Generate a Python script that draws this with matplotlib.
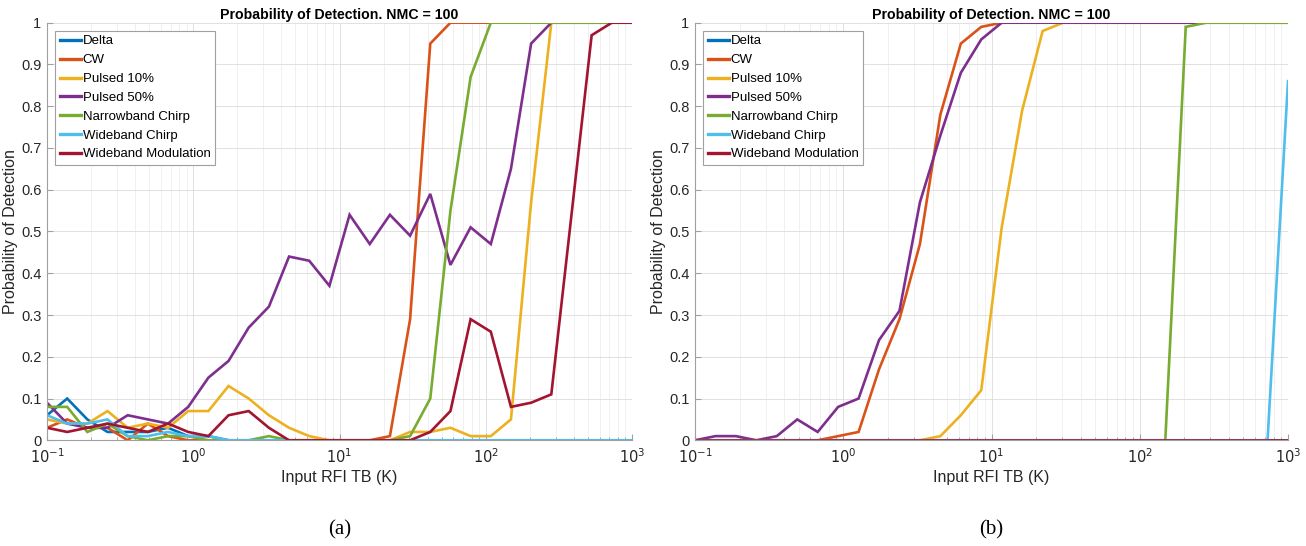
import matplotlib
matplotlib.use("Agg")
import matplotlib.pyplot as plt
from matplotlib.ticker import FixedLocator, LogLocator, NullFormatter

# Input RFI TB (K) sample points (log-spaced, 30 points from 0.1 to 1000)
tb = [0.1, 0.1374, 0.1887, 0.2593, 0.3562, 0.4894, 0.6723, 0.9237, 1.269, 1.743,
      2.395, 3.290, 4.520, 6.210, 8.532, 11.72, 16.10, 22.12, 30.39, 41.75,
      57.36, 78.80, 108.3, 148.7, 204.3, 280.7, 385.7, 529.8, 727.9, 1000.0]

labels = ["Delta", "CW", "Pulsed 10%", "Pulsed 50%", "Narrowband Chirp",
          "Wideband Chirp", "Wideband Modulation"]
colors = ["#0072BD", "#D95319", "#EDB120", "#7E2F8E", "#77AC30", "#4DBEEE", "#A2142F"]

# Panel (a)
a_delta = [0.06, 0.10, 0.05, 0.02, 0.02, 0.02, 0.03, 0.01, 0.01, 0, 0, 0, 0, 0, 0,
           0, 0, 0, 0, 0, 0, 0, 0, 0, 0, 0, 0, 0, 0, 0]
a_cw = [0.03, 0.05, 0.03, 0.03, 0.00, 0.04, 0.01, 0, 0, 0, 0, 0, 0, 0, 0,
        0, 0, 0.01, 0.29, 0.95, 1, 1, 1, 1, 1, 1, 1, 1, 1, 1]
a_p10 = [0.05, 0.04, 0.04, 0.07, 0.03, 0.04, 0.03, 0.07, 0.07, 0.13, 0.10, 0.06, 0.03, 0.01, 0,
         0, 0, 0, 0.02, 0.02, 0.03, 0.01, 0.01, 0.05, 0.57, 1, 1, 1, 1, 1]
a_p50 = [0.09, 0.04, 0.03, 0.03, 0.06, 0.05, 0.04, 0.08, 0.15, 0.19, 0.27, 0.32, 0.44, 0.43, 0.37,
         0.54, 0.47, 0.54, 0.49, 0.59, 0.42, 0.51, 0.47, 0.65, 0.95, 1, 1, 1, 1, 1]
a_nbc = [0.08, 0.08, 0.02, 0.04, 0.01, 0.00, 0.01, 0.01, 0, 0, 0, 0.01, 0, 0, 0,
         0, 0, 0, 0.01, 0.10, 0.55, 0.87, 1, 1, 1, 1, 1, 1, 1, 1]
a_wbc = [0.06, 0.04, 0.04, 0.05, 0.01, 0.01, 0.02, 0.01, 0.01, 0, 0, 0, 0, 0, 0,
         0, 0, 0, 0, 0, 0, 0, 0, 0, 0, 0, 0, 0, 0, 0]
a_wbm = [0.03, 0.02, 0.03, 0.04, 0.03, 0.02, 0.04, 0.02, 0.01, 0.06, 0.07, 0.03, 0, 0, 0,
         0, 0, 0, 0, 0.02, 0.07, 0.29, 0.26, 0.08, 0.09, 0.11, 0.54, 0.97, 1, 1]

# Panel (b)
b_delta = [0] * 30
b_cw = [0, 0, 0, 0, 0, 0, 0, 0.01, 0.02, 0.17, 0.29, 0.47, 0.78, 0.95, 0.99,
        1, 1, 1, 1, 1, 1, 1, 1, 1, 1, 1, 1, 1, 1, 1]
b_p10 = [0, 0, 0, 0, 0, 0, 0, 0, 0, 0, 0, 0, 0.01, 0.06, 0.12,
         0.51, 0.79, 0.98, 1, 1, 1, 1, 1, 1, 1, 1, 1, 1, 1, 1]
b_p50 = [0, 0.01, 0.01, 0, 0.01, 0.05, 0.02, 0.08, 0.10, 0.24, 0.31, 0.57, 0.73, 0.88, 0.96,
         1, 1, 1, 1, 1, 1, 1, 1, 1, 1, 1, 1, 1, 1, 1]
b_nbc = [0, 0, 0, 0, 0, 0, 0, 0, 0, 0, 0, 0, 0, 0, 0,
         0, 0, 0, 0, 0, 0, 0, 0, 0, 0.99, 1, 1, 1, 1, 1]
b_wbc = [0, 0, 0, 0, 0, 0, 0, 0, 0, 0, 0, 0, 0, 0, 0,
         0, 0, 0, 0, 0, 0, 0, 0, 0, 0, 0, 0, 0, 0, 0.86]
b_wbm = [0] * 30

panel_a = [a_delta, a_cw, a_p10, a_p50, a_nbc, a_wbc, a_wbm]
panel_b = [b_delta, b_cw, b_p10, b_p50, b_nbc, b_wbc, b_wbm]

yticks = [0, 0.1, 0.2, 0.3, 0.4, 0.5, 0.6, 0.7, 0.8, 0.9, 1]
ytick_labels = ["0", "0.1", "0.2", "0.3", "0.4", "0.5", "0.6", "0.7", "0.8", "0.9", "1"]

plt.rcParams["font.family"] = ["Liberation Sans", "DejaVu Sans"]

W, H = 1306, 546
fig = plt.figure(figsize=(W / 100, H / 100), dpi=100)

axes_px = [(47, 632), (695, 1288)]
top_px, bot_px = 22.7, 440.3
captions = ["(a)", "(b)"]

for (x0, x1), data, cap in zip(axes_px, [panel_a, panel_b], captions):
    ax = fig.add_axes([x0 / W, 1 - bot_px / H, (x1 - x0) / W, (bot_px - top_px) / H])
    for series, lab, col in zip(data, labels, colors):
        ax.plot(tb, series, color=col, lw=1.9, label=lab, solid_joinstyle="miter")
    ax.set_xscale("log")
    ax.set_xlim(0.1, 1000)
    ax.set_ylim(0, 1)
    ax.set_yticks(yticks)
    ax.set_yticklabels(ytick_labels)
    ax.xaxis.set_major_locator(FixedLocator([0.1, 1, 10, 100, 1000]))
    ax.xaxis.set_minor_locator(LogLocator(base=10, subs=range(2, 10), numticks=20))
    ax.xaxis.set_minor_formatter(NullFormatter())
    ax.set_xticklabels([r"$10^{-1}$", r"$10^{0}$", r"$10^{1}$", r"$10^{2}$", r"$10^{3}$"])
    ax.grid(True, which="major", color="#dcdcdc", lw=0.6)
    ax.grid(True, which="minor", color="#eeeeee", lw=0.6)
    ax.set_axisbelow(True)
    for s in ["top", "right"]:
        ax.spines[s].set_visible(False)
    for s in ["left", "bottom"]:
        ax.spines[s].set_color("#a0a0a0")
        ax.spines[s].set_linewidth(0.8)
    ax.tick_params(which="both", direction="in", colors="#a0a0a0", labelcolor="#262626",
                   labelsize=10.5)
    ax.tick_params(axis="y", pad=4)
    ax.tick_params(axis="x", pad=5)
    ax.tick_params(which="major", length=4)
    ax.tick_params(which="minor", length=2)
    ax.set_xlabel("Input RFI TB (K)", fontsize=11.5, color="#262626", labelpad=3)
    ax.set_ylabel("Probability of Detection", fontsize=11.5, color="#262626", labelpad=2)
    ax.set_title("Probability of Detection. NMC = 100", fontsize=10.2, fontweight="bold",
                 color="#000000", pad=3)
    leg = ax.legend(loc="upper left", fontsize=9.5, handlelength=1.6, handletextpad=0.15,
                    borderpad=0.35, labelspacing=0.5, borderaxespad=0.6, fancybox=False,
                    framealpha=1, edgecolor="#a0a0a0")
    leg.get_frame().set_linewidth(0.8)
    for line in leg.get_lines():
        line.set_linewidth(2.4)
    fig.text(((x0 + x1) / 2) / W, 1 - 530 / H, cap, ha="center", va="center",
             fontsize=15, family=["Liberation Serif", "DejaVu Serif"])

fig.savefig("out.png", dpi=100)
